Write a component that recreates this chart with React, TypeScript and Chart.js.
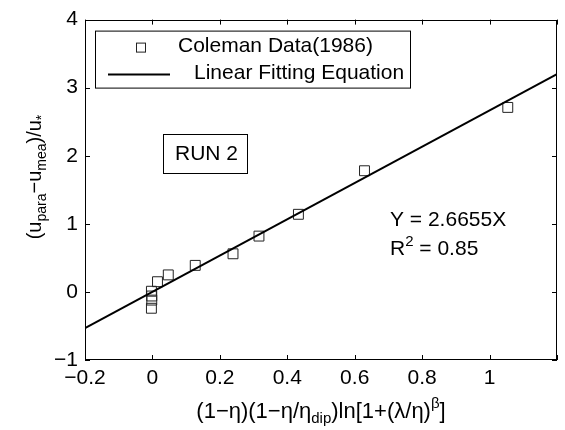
import React, { useEffect, useRef } from 'react';
import { Chart, registerables } from 'chart.js';

Chart.register(...registerables);

const FONT = '"Liberation Sans", Arial, Helvetica, sans-serif';
const FS = 21;

// Coleman Data (1986), RUN 2
const colemanX = [-0.003, -0.002, -0.002, -0.003, 0.015, 0.047, 0.127, 0.239, 0.316, 0.433, 0.629, 1.054];
const colemanY = [0.01, -0.06, -0.12, -0.24, 0.15, 0.25, 0.39, 0.56, 0.82, 1.14, 1.78, 2.71];

// Linear fitting equation Y = 2.6655X, end points
const fitX = [-0.2, 1.2];
const fitY = [-0.533, 3.199];

const xTickValues = [-0.2, 0, 0.2, 0.4, 0.6, 0.8, 1, 1.2];
const xTickLabels = ['\u22120.2', '0', '0.2', '0.4', '0.6', '0.8', '1', ''];
const yTickValues = [-1, 0, 1, 2, 3, 4];
const yTickLabels = ['\u22121', '0', '1', '2', '3', '4'];

const seriesLabels = ['Coleman Data(1986)', 'Linear Fitting Equation'];
const runLabel = 'RUN 2';
const equationText = 'Y = 2.6655X';
const r2Value = '0.85';

type Seg = { t: string; size: number; dy: number };

function drawRich(ctx: CanvasRenderingContext2D, segs: Seg[], x: number, y: number, align: 'left' | 'center') {
  const widths = segs.map((s) => {
    ctx.font = `${s.size}px ${FONT}`;
    return ctx.measureText(s.t).width;
  });
  const total = widths.reduce((a, b) => a + b, 0);
  let cur = align === 'center' ? x - total / 2 : x;
  ctx.textAlign = 'left';
  ctx.textBaseline = 'alphabetic';
  segs.forEach((s, i) => {
    ctx.font = `${s.size}px ${FONT}`;
    ctx.fillText(s.t, cur, y + s.dy);
    cur += widths[i];
  });
}

const decorPlugin = {
  id: 'decor',
  afterDraw(chart: any) {
    const ctx: CanvasRenderingContext2D = chart.ctx;
    const a = chart.chartArea;
    const xs = chart.scales.x;
    const ys = chart.scales.y;
    ctx.save();
    ctx.strokeStyle = '#000';
    ctx.fillStyle = '#000';
    ctx.lineWidth = 1;
    // frame
    ctx.strokeRect(Math.round(a.left) + 0.5, Math.round(a.top) + 0.5, Math.round(a.right - a.left) - 1, Math.round(a.bottom - a.top) - 1);
    // inward ticks
    const tl = 5;
    ctx.beginPath();
    xs.ticks.forEach((t: any) => {
      const px = Math.round(xs.getPixelForValue(t.value)) + 0.5;
      ctx.moveTo(px, a.bottom);
      ctx.lineTo(px, a.bottom - tl);
      ctx.moveTo(px, a.top);
      ctx.lineTo(px, a.top + tl);
    });
    ys.ticks.forEach((t: any) => {
      const py = Math.round(ys.getPixelForValue(t.value)) + 0.5;
      ctx.moveTo(a.left, py);
      ctx.lineTo(a.left + tl, py);
      ctx.moveTo(a.right, py);
      ctx.lineTo(a.right - tl, py);
    });
    ctx.stroke();

    const L = a.left;
    const T = a.top;

    // legend
    ctx.fillStyle = '#fff';
    ctx.fillRect(L + 10, T + 11, 315, 57);
    ctx.fillStyle = '#000';
    ctx.strokeRect(L + 10.5, T + 11.5, 315, 57);
    ctx.strokeStyle = '#222';
    ctx.strokeRect(L + 51.5, T + 23.5, 9, 9);
    ctx.strokeStyle = '#000';
    ctx.lineWidth = 2;
    ctx.beginPath();
    ctx.moveTo(L + 23, T + 55);
    ctx.lineTo(L + 85, T + 55);
    ctx.stroke();
    ctx.lineWidth = 1;
    ctx.font = `${FS}px ${FONT}`;
    ctx.textAlign = 'left';
    ctx.textBaseline = 'middle';
    ctx.fillText(chart.data.datasets[0].label, L + 93, T + 27);
    ctx.fillText(chart.data.datasets[1].label, L + 109, T + 54);

    // RUN 2 box
    ctx.strokeRect(163.5, 134.5, 84, 39);
    ctx.textBaseline = 'alphabetic';
    ctx.fillText(runLabel, 175, 160);

    // equation
    drawRich(ctx, [{ t: equationText, size: FS, dy: 0 }], 390, 226, 'left');
    drawRich(ctx, [
      { t: 'R', size: FS, dy: 0 },
      { t: '2', size: 15, dy: -9 },
      { t: ' = ' + r2Value, size: FS, dy: 0 },
    ], 390, 255, 'left');

    // x title
    drawRich(ctx, [
      { t: '(1\u2212\u03b7)(1\u2212\u03b7/\u03b7', size: 22, dy: 0 },
      { t: 'dip', size: 15, dy: 5 },
      { t: ')ln[1+(\u03bb/\u03b7)', size: 22, dy: 0 },
      { t: '\u03b2', size: 15, dy: -10 },
      { t: ']', size: 22, dy: 0 },
    ], (a.left + a.right) / 2, 418, 'center');

    // y title
    ctx.save();
    ctx.translate(41, 177);
    ctx.rotate(-Math.PI / 2);
    drawRich(ctx, [
      { t: '(u', size: 20, dy: 0 },
      { t: 'para', size: 14, dy: 5 },
      { t: '\u2212u', size: 20, dy: 0 },
      { t: 'mea', size: 14, dy: 5 },
      { t: ')/u', size: 20, dy: 0 },
      { t: '*', size: 14, dy: 5 },
    ], 0, 0, 'center');
    ctx.restore();

    ctx.restore();
  },
};

export default function App() {
  const ref = useRef<HTMLCanvasElement>(null);
  useEffect(() => {
    if (!ref.current) return;
    const chart = new Chart(ref.current, {
      type: 'scatter',
      data: {
        datasets: [
          {
            type: 'scatter',
            label: seriesLabels[0],
            data: colemanX.map((x, i) => ({ x, y: colemanY[i] })),
            pointStyle: 'rect',
            pointRadius: 7,
            pointHoverRadius: 7,
            borderColor: '#222',
            backgroundColor: 'rgba(0,0,0,0)',
            borderWidth: 1,
            order: 2,
          },
          {
            type: 'line',
            label: seriesLabels[1],
            data: fitX.map((x, i) => ({ x, y: fitY[i] })),
            borderColor: '#000',
            borderWidth: 2,
            pointRadius: 0,
            fill: false,
            showLine: true,
            order: 1,
          },
        ] as any,
      },
      options: {
        animation: false,
        responsive: false,
        devicePixelRatio: 1,
        events: [],
        layout: { padding: { top: 14, right: 2, left: 0, bottom: 0 } },
        plugins: { legend: { display: false }, tooltip: { enabled: false } },
        scales: {
          x: {
            type: 'linear',
            min: -0.2,
            max: 1.2,
            afterBuildTicks: (s: any) => {
              s.ticks = xTickValues.map((v) => ({ value: v }));
            },
            afterFit: (s: any) => {
              s.height = 70;
            },
            ticks: {
              autoSkip: false,
              maxRotation: 0,
              padding: 6,
              color: '#000',
              font: { family: FONT, size: FS },
              callback: (_v: any, i: number) => xTickLabels[i],
            },
            grid: { display: false, drawTicks: false },
            border: { display: false },
          },
          y: {
            type: 'linear',
            min: -1,
            max: 4,
            afterBuildTicks: (s: any) => {
              s.ticks = yTickValues.map((v) => ({ value: v }));
            },
            afterFit: (s: any) => {
              s.width = 85;
            },
            ticks: {
              autoSkip: false,
              padding: 7,
              color: '#000',
              font: { family: FONT, size: FS },
              callback: (_v: any, i: number) => yTickLabels[i],
            },
            grid: { display: false, drawTicks: false },
            border: { display: false },
          },
        },
      } as any,
      plugins: [decorPlugin],
    });
    return () => chart.destroy();
  }, []);
  return (
    <div style={{ position: 'absolute', left: 0, top: 0, width: 565, height: 430, background: '#fff' }}>
      <canvas ref={ref} width={565} height={430} style={{ display: 'block' }} />
    </div>
  );
}
